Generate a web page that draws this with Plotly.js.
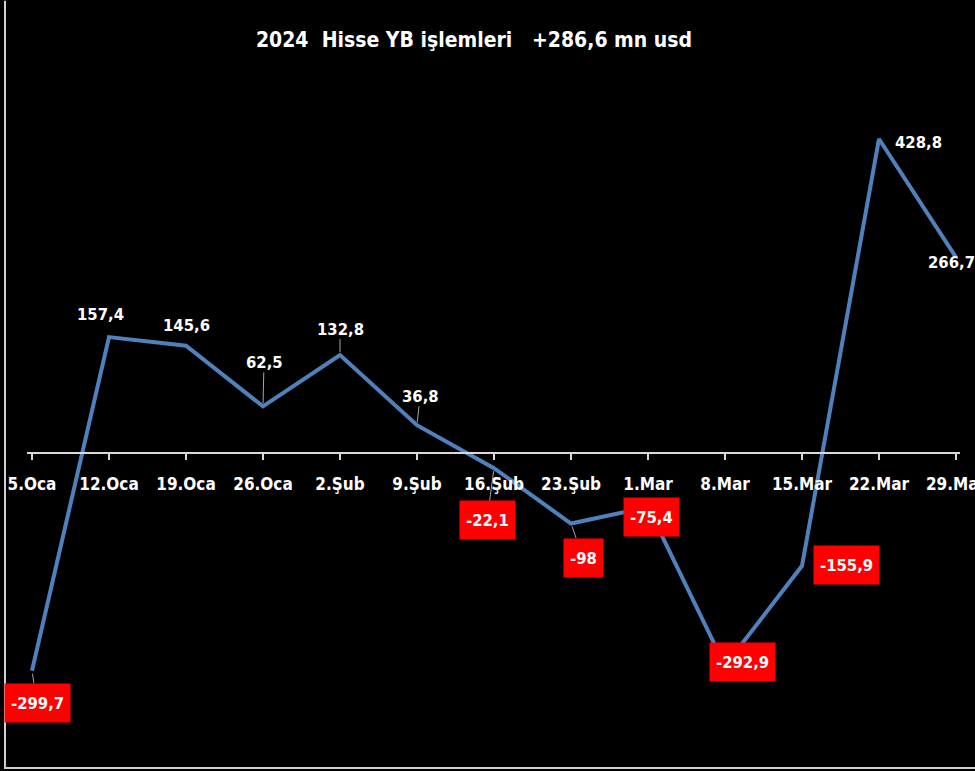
<!DOCTYPE html>
<html><head><meta charset="utf-8">
<script src="https://cdn.plot.ly/plotly-3.0.1.min.js"></script>
<style>html,body{margin:0;padding:0;background:#000;}</style>
</head><body><div id="chart" style="width:975px;height:771px;"></div>
<script>
// ---- data ----
const categories = ['5.Oca','12.Oca','19.Oca','26.Oca','2.Şub','9.Şub','16.Şub','23.Şub','1.Mar','8.Mar','15.Mar','22.Mar','29.Mar'];
const values = [-299.7,157.4,145.6,62.5,132.8,36.8,-22.1,-98,-75.4,-292.9,-155.9,428.8,266.7];
const valueLabels = ['-299,7','157,4','145,6','62,5','132,8','36,8','-22,1','-98','-75,4','-292,9','-155,9','428,8','266,7'];
const titleText = '2024\u00a0\u00a0Hisse YB işlemleri\u00a0\u00a0\u00a0+286,6 mn usd';

// ---- label placement (styling) ----
// [dx, dy, withLeader]  dy positive = downwards (pixels)
const labelPlacement = [
  [5, 32, true], [-9, -23, false], [0, -20, false], [1, -44, true], [0, -26, true],
  [3, -29, true], [-7, 52, true], [12, 34, true], [3, 9.5, false], [17, -4, false],
  [44, -1, false], [39, 4, false], [-5, 5, false]
];

const FONT = "'DejaVu Sans Condensed', 'DejaVu Sans', sans-serif";
const W = 975, H = 771;
const M = {l: 27, r: 15, t: 86.5, b: 26.5};
const yRange = [-400, 500];
const xRange = [-5/77, 12 + (960 - 956) / 77];
const plotW = W - M.l - M.r, plotH = H - M.t - M.b;
const px2paperX = px => (px - M.l) / plotW;
const px2paperY = py => (H - M.b - py) / plotH;

const annotations = values.map((v, i) => {
  const [dx, dy, lead] = labelPlacement[i];
  const neg = v < 0;
  const a = {
    x: i, y: v, xref: 'x', yref: 'y',
    text: valueLabels[i],
    font: {family: FONT, size: 16.5, color: '#ffffff', weight: 'bold'},
    bgcolor: neg ? '#ff0000' : 'rgba(0,0,0,0)',
    borderpad: neg ? 6 : 0,
    xanchor: 'center', yanchor: 'middle'
  };
  if (neg) a.height = 26;
  if (lead) {
    Object.assign(a, {showarrow: true, ax: dx, ay: dy, axref: 'pixel', ayref: 'pixel',
      arrowhead: 0, arrowwidth: 1, arrowcolor: '#a6a6a6', standoff: 3, startstandoff: 0});
  } else {
    Object.assign(a, {showarrow: false, xshift: dx, yshift: -dy});
  }
  return a;
});

const trace = {
  x: categories.map((c, i) => i), y: values, type: 'scatter', mode: 'lines',
  line: {color: '#4f81bd', width: 4}, hoverinfo: 'skip', cliponaxis: false
};

const layout = {
  width: W, height: H,
  margin: M,
  paper_bgcolor: '#000000', plot_bgcolor: '#000000',
  showlegend: false,
  title: {text: titleText, x: 474 / W, xref: 'container', xanchor: 'center',
          y: 1 - 40 / H, yref: 'container', yanchor: 'middle',
          font: {family: FONT, size: 21, color: '#ffffff', weight: 'bold'}},
  xaxis: {
    range: xRange, tickmode: 'array', tickvals: categories.map((c, i) => i), ticktext: categories,
    anchor: 'free', position: (0 - yRange[0]) / (yRange[1] - yRange[0]),
    showline: true, linecolor: '#d9d9d9', linewidth: 1.5,
    ticks: 'outside', ticklen: 6, tickwidth: 1.5, tickcolor: '#d9d9d9',
    showgrid: false, zeroline: false, ticklabelstandoff: 10, ticklabeloverflow: 'allow',
    tickfont: {family: FONT, size: 17, color: '#ffffff', weight: 'bold'}, fixedrange: true
  },
  yaxis: {range: yRange, visible: false, showgrid: false, zeroline: false, fixedrange: true},
  annotations: annotations,
  shapes: [
    {type: 'line', xref: 'paper', yref: 'paper', x0: px2paperX(5), x1: px2paperX(5), y0: px2paperY(0), y1: px2paperY(768.5),
     line: {color: '#d0d0d0', width: 2}},
    {type: 'line', xref: 'paper', yref: 'paper', x0: px2paperX(4), x1: px2paperX(975), y0: px2paperY(768.5), y1: px2paperY(768.5),
     line: {color: '#d0d0d0', width: 2}}
  ]
};

Plotly.newPlot('chart', [trace], layout, {displayModeBar: false, staticPlot: true});
</script></body></html>
